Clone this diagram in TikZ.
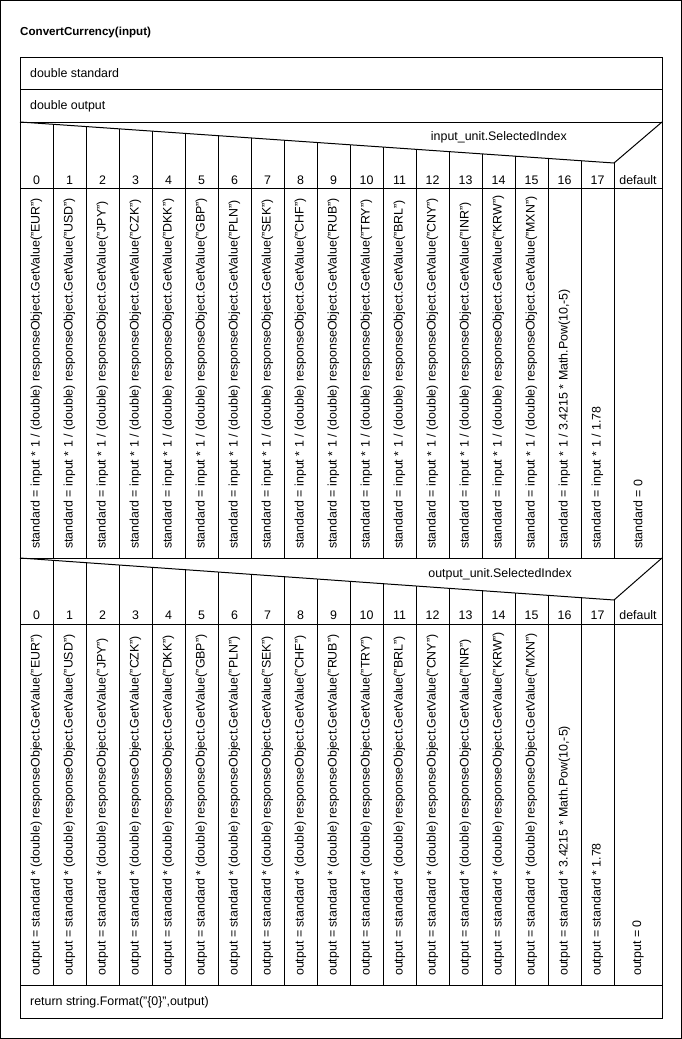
\documentclass[tikz,border=0pt]{standalone}
\usepackage{fontspec}
\setmainfont{Liberation Sans}
\usetikzlibrary{positioning, calc}

\tikzset{
  nsline/.style={black, line width=1pt},
  nstext/.style={font=\fontsize{12.4}{14}\selectfont, inner sep=0pt},
  titletext/.style={font=\fontsize{11.6}{14}\selectfont\bfseries, inner sep=0pt},
  casetext/.style={nstext, rotate=90, anchor=west},
}

\begin{document}
\begin{tikzpicture}[x=1pt, y=-1pt]
  \useasboundingbox (0,0) rectangle (682,1039);
  \draw[nsline] (0.5,0.5) rectangle (681.5,1038.5);
  \node[titletext, anchor=west] (title) at (20,32) {ConvertCurrency(input)};

  % frame and declarations
  \draw[nsline] (20,57) rectangle (662,1018);
  \draw[nsline] (20,89) -- (662,89);
  \draw[nsline] (20,122) -- (662,122);
  \node[nstext, anchor=west] (declstd) at (30,73) {double standard};
  \node[nstext, anchor=west] (declout) at (30,106) {double output};

  % first case: input unit
  \draw[nsline] (20,122) -- (614,163) -- (662,122);
  \draw[nsline] (20,188) -- (662,188);
  \draw[nsline] (20,558) -- (662,558);
  \foreach \i in {1,...,18}
    \draw[nsline] ({20+33*\i},{122+2.2778*\i}) -- ({20+33*\i},558);
  \node[nstext, anchor=east] (insel) at (567,137) {input\_unit.SelectedIndex};
  \foreach \i in {0,...,17}
    \node[nstext] (inno\i) at ({36.5+33*\i},180) {\i};
  \node[nstext] (indef) at (638,180) {default};
  \foreach \cur [count=\i from 0] in {EUR,USD,JPY,CZK,DKK,GBP,PLN,SEK,CHF,RUB,TRY,BRL,CNY,INR,KRW,MXN}
    \node[casetext] (std\i) at ({36.5+33*\i},549)
      {standard = input * 1 / (double) responseObject.GetValue("\cur")};
  \node[casetext] (std16) at (564.5,549) {standard = input * 1 / 3.4215 * Math.Pow(10,-5)};
  \node[casetext] (std17) at (597.5,549) {standard = input * 1 / 1.78};
  \node[casetext] (stddef) at (638,549) {standard = 0};

  % second case: output unit
  \draw[nsline] (20,558) -- (614,600) -- (662,558);
  \draw[nsline] (20,624) -- (662,624);
  \draw[nsline] (20,985) -- (662,985);
  \foreach \i in {1,...,18}
    \draw[nsline] ({20+33*\i},{558+2.3333*\i}) -- ({20+33*\i},985);
  \node[nstext, anchor=east] (outsel) at (572,574) {output\_unit.SelectedIndex};
  \foreach \i in {0,...,17}
    \node[nstext] (outno\i) at ({36.5+33*\i},615) {\i};
  \node[nstext] (outdef) at (638,615) {default};
  \foreach \cur [count=\i from 0] in {EUR,USD,JPY,CZK,DKK,GBP,PLN,SEK,CHF,RUB,TRY,BRL,CNY,INR,KRW,MXN}
    \node[casetext] (out\i) at ({36.5+33*\i},976)
      {output = standard * (double) responseObject.GetValue("\cur")};
  \node[casetext] (out16) at (564.5,976) {output = standard * 3.4215 * Math.Pow(10,-5)};
  \node[casetext] (out17) at (597.5,976) {output = standard * 1.78};
  \node[casetext] (outdefv) at (638,976) {output = 0};

  % return
  \node[nstext, anchor=west] (ret) at (30,1002) {return string.Format("\{0\}",output)};
\end{tikzpicture}
\end{document}
